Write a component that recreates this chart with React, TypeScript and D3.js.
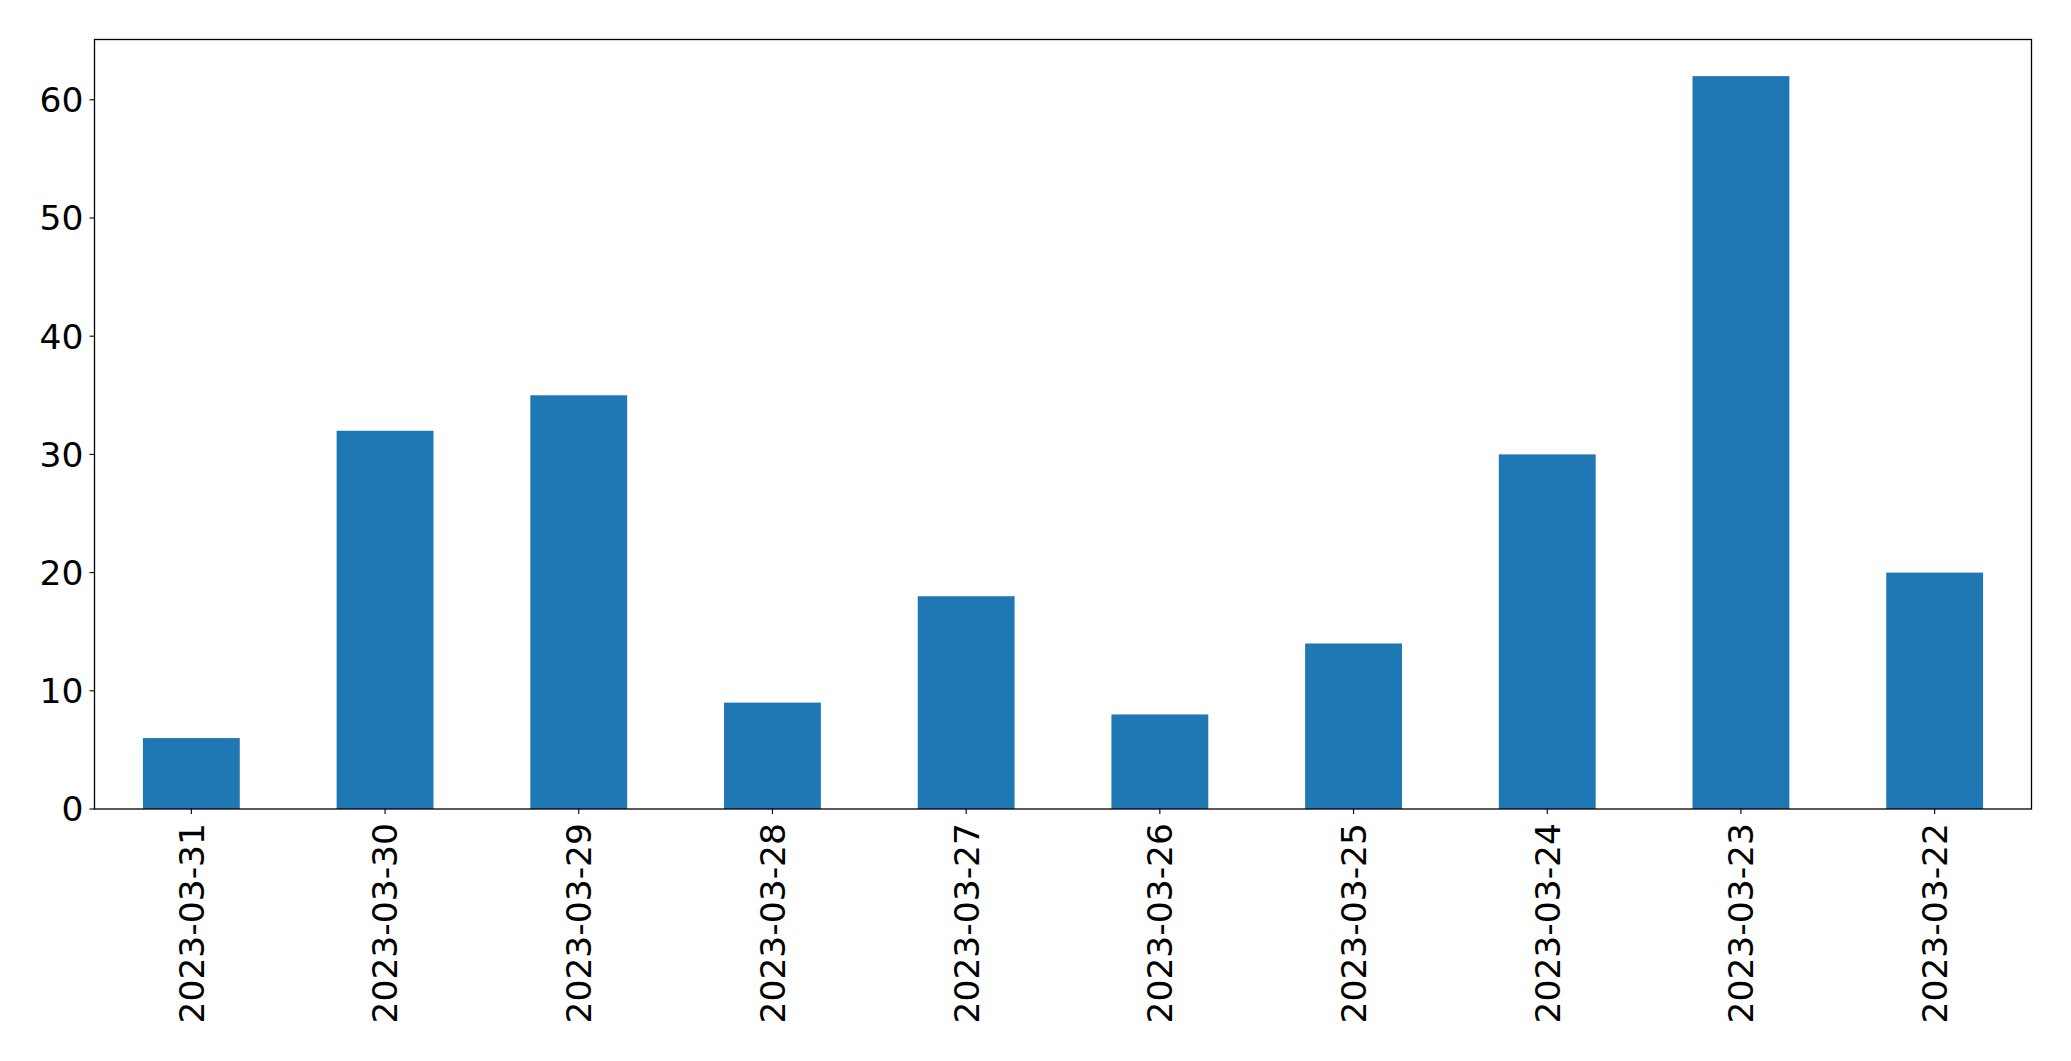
import * as d3 from 'd3'

const dates = [
  '2023-03-31',
  '2023-03-30',
  '2023-03-29',
  '2023-03-28',
  '2023-03-27',
  '2023-03-26',
  '2023-03-25',
  '2023-03-24',
  '2023-03-23',
  '2023-03-22',
]
const counts = [6, 32, 35, 9, 18, 8, 14, 30, 62, 20]
const yTickValues = [0, 10, 20, 30, 40, 50, 60]

export default function App() {
  const width = 2071
  const height = 1061
  const margin = { top: 39.5, right: 39.5, bottom: 252, left: 94.5 }
  const innerW = width - margin.left - margin.right
  const innerH = height - margin.top - margin.bottom
  const fontSize = 34.5

  // matplotlib-style: bar width 0.5 of band, ymax padded by 5%
  const xScale = d3.scaleBand<string>().domain(dates).range([0, innerW]).paddingInner(0.5).paddingOuter(0.25)
  const yMax = (d3.max(counts) ?? 0) * 1.05
  const yScale = d3.scaleLinear().domain([0, yMax]).range([innerH, 0])

  return (
    <svg
      width={width}
      height={height}
      style={{ position: 'absolute', left: 0, top: 0 }}
      fontFamily="'DejaVu Sans', sans-serif"
      fontSize={fontSize}
    >
      <rect width={width} height={height} fill="#fff" />
      <g transform={`translate(${margin.left},${margin.top})`}>
        {dates.map((d, i) => (
          <rect
            key={d}
            x={xScale(d)}
            y={yScale(counts[i])}
            width={xScale.bandwidth()}
            height={innerH - yScale(counts[i])}
            fill="#1f77b4"
          />
        ))}
        <g className="y axis" textAnchor="end">
          {yTickValues.map((v) => (
            <g key={v} transform={`translate(0, ${yScale(v)})`}>
              <line x1={-5} x2={0} stroke="#000" strokeWidth={1.1} />
              <text x={-11} dy="0.36em" fill="#000">
                {v}
              </text>
            </g>
          ))}
        </g>
        <g className="x axis" transform={`translate(0, ${innerH})`}>
          {dates.map((d) => {
            const x = (xScale(d) ?? 0) + xScale.bandwidth() / 2
            return (
              <g key={d} transform={`translate(${x}, 0)`}>
                <line y2={5} stroke="#000" strokeWidth={1.1} />
                <text
                  transform="translate(0, 14) rotate(-90)"
                  textAnchor="end"
                  dy="0.36em"
                  fill="#000"
                >
                  {d}
                </text>
              </g>
            )
          })}
        </g>
        <rect width={innerW} height={innerH} fill="none" stroke="#000" strokeWidth={1.3} />
      </g>
    </svg>
  )
}
